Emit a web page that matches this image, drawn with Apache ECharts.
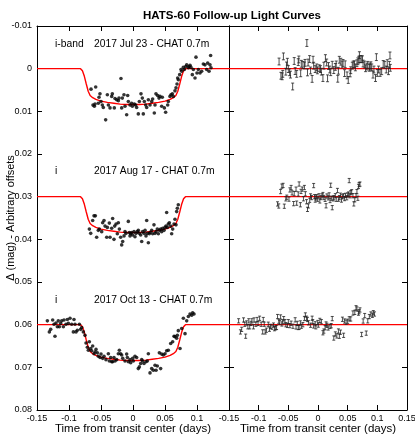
<!DOCTYPE html>
<html>
<head>
<meta charset="utf-8">
<script src="https://cdn.jsdelivr.net/npm/echarts@6/dist/echarts.min.js"></script>
<style>
  html, body { margin: 0; padding: 0; background: #fff; }
  #chart { width: 415px; height: 436px; }
</style>
</head>
<body>
<div id="chart"></div>
<script>
// offsets of the three nights (mag)
const offsets = [0, 0.03, 0.06];
const nightBands = ['i-band', 'i', 'i'];
const nightLabels = ['2017 Jul 23 - CHAT 0.7m', '2017 Aug 17 - CHAT 0.7m', '2017 Oct 13 - CHAT 0.7m'];
// typical photometric error per night (mag)
const nightErrors = [0.0008, 0.0005, 0.0005];

// transit model (depth below baseline)
const modelT = [-0.15, -0.082, -0.079, -0.076, -0.073, -0.070, -0.067, -0.063, -0.058, -0.050, -0.040, -0.030, -0.020, -0.010, 0,
  0.010, 0.020, 0.030, 0.040, 0.050, 0.058, 0.063, 0.067, 0.070, 0.073, 0.076, 0.079, 0.082, 0.15];
const modelDepth = [0, 0, 0.0005, 0.0018, 0.0036, 0.0053, 0.0063, 0.0068, 0.0072, 0.0076, 0.0079, 0.0081, 0.0083, 0.0084, 0.0084,
  0.0084, 0.0083, 0.0081, 0.0079, 0.0076, 0.0072, 0.0068, 0.0063, 0.0053, 0.0036, 0.0018, 0.0005, 0, 0];

// light curves [time, dmag incl. offset]
const lc1 = [[-0.0656,0.0048],[-0.0583,0.0043],[-0.0516,0.0059],[-0.0531,0.0067],[-0.0625,0.0085],[-0.0594,0.0083],[-0.0604,0.0088],[-0.0542,0.0081],[-0.0500,0.0077],[-0.0479,0.0085],[-0.0427,0.0120],[-0.0464,0.0091],[-0.0401,0.0061],[-0.0385,0.0085],[-0.0359,0.0092],[-0.0333,0.0065],[-0.0323,0.0059],[-0.0292,0.0092],[-0.0281,0.0070],[-0.0255,0.0073],[-0.0229,0.0075],[-0.0219,0.0069],[-0.0188,0.0023],[-0.0177,0.0092],[-0.0167,0.0069],[-0.0141,0.0061],[-0.0125,0.0088],[-0.0099,0.0108],[-0.0083,0.0063],[-0.0073,0.0077],[-0.0047,0.0085],[-0.0021,0.0081],[-0.0010,0.0088],[0.0021,0.0083],[0.0042,0.0085],[0.0057,0.0091],[0.0083,0.0106],[0.0099,0.0077],[0.0125,0.0059],[0.0146,0.0069],[0.0161,0.0106],[0.0177,0.0077],[0.0198,0.0085],[0.0214,0.0091],[0.0240,0.0073],[0.0266,0.0085],[0.0292,0.0077],[0.0307,0.0071],[0.0333,0.0104],[0.0344,0.0085],[0.0359,0.0059],[0.0385,0.0063],[0.0406,0.0069],[0.0422,0.0065],[0.0448,0.0088],[0.0458,0.0067],[0.0490,0.0092],[0.0510,0.0102],[0.0542,0.0085],[0.0552,0.0077],[0.0578,0.0065],[0.0594,0.0061],[0.0615,0.0059],[0.0630,0.0065],[0.0656,0.0052],[0.0672,0.0045],[0.0688,0.0036],[0.0698,0.0022],[0.0708,0.0026],[0.0729,0.0014],[0.0750,0.0002],[0.0760,0.0006],[0.0786,-0.0003],[0.0802,0.0002],[0.0823,-0.0005],[0.0839,-0.0009],[0.0865,-0.0002],[0.0875,-0.0005],[0.0891,-0.0008],[0.0906,-0.0003],[0.0927,0.0014],[0.0943,0.0002],[0.0969,0.0022],[0.0984,-0.0027],[0.1000,0.0010],[0.1021,0.0002],[0.1047,0.0010],[0.1073,0.0006],[0.1099,-0.0011],[0.1125,-0.0009],[0.1151,0.0002],[0.1167,-0.0013],[0.1188,0.0006],[0.1203,-0.0009],[0.1213,-0.0031],[0.1219,-0.0002]];
const lc2 = [[-0.0682,0.0376],[-0.0661,0.0386],[-0.0630,0.0356],[-0.0609,0.0345],[-0.0588,0.0345],[-0.0568,0.0395],[-0.0542,0.0379],[-0.0526,0.0376],[-0.0489,0.0382],[-0.0474,0.0361],[-0.0453,0.0356],[-0.0437,0.0369],[-0.0411,0.0395],[-0.0401,0.0372],[-0.0370,0.0362],[-0.0359,0.0395],[-0.0333,0.0374],[-0.0318,0.0351],[-0.0297,0.0400],[-0.0286,0.0369],[-0.0265,0.0364],[-0.0245,0.0387],[-0.0229,0.0361],[-0.0213,0.0376],[-0.0193,0.0395],[-0.0177,0.0413],[-0.0161,0.0405],[-0.0140,0.0392],[-0.0125,0.0382],[-0.0109,0.0386],[-0.0073,0.0358],[-0.0057,0.0384],[-0.0047,0.0392],[-0.0036,0.0387],[-0.0021,0.0384],[-0.0005,0.0390],[0.0016,0.0382],[0.0031,0.0394],[0.0047,0.0386],[0.0068,0.0382],[0.0083,0.0379],[0.0099,0.0386],[0.0120,0.0390],[0.0136,0.0405],[0.0151,0.0382],[0.0172,0.0386],[0.0188,0.0379],[0.0203,0.0392],[0.0214,0.0356],[0.0224,0.0386],[0.0240,0.0408],[0.0255,0.0387],[0.0266,0.0384],[0.0292,0.0379],[0.0307,0.0387],[0.0328,0.0366],[0.0344,0.0386],[0.0360,0.0382],[0.0380,0.0376],[0.0396,0.0387],[0.0412,0.0379],[0.0432,0.0376],[0.0448,0.0382],[0.0464,0.0374],[0.0485,0.0379],[0.0500,0.0372],[0.0516,0.0369],[0.0526,0.0337],[0.0537,0.0372],[0.0552,0.0364],[0.0568,0.0361],[0.0589,0.0369],[0.0604,0.0387],[0.0620,0.0376],[0.0641,0.0364],[0.0656,0.0353],[0.0672,0.0366],[0.0682,0.0335],[0.0693,0.0327],[0.0708,0.0319]];
const lc3 = [[-0.1338,0.0591],[-0.1307,0.0617],[-0.1286,0.0611],[-0.1255,0.0589],[-0.1234,0.0599],[-0.1219,0.0627],[-0.1203,0.0596],[-0.1182,0.0605],[-0.1167,0.0591],[-0.1151,0.0605],[-0.1130,0.0597],[-0.1114,0.0591],[-0.1088,0.0605],[-0.1078,0.0589],[-0.1047,0.0599],[-0.1026,0.0588],[-0.1010,0.0597],[-0.0984,0.0585],[-0.0958,0.0599],[-0.0932,0.0617],[-0.0922,0.0588],[-0.0906,0.0599],[-0.0890,0.0617],[-0.0870,0.0613],[-0.0838,0.0599],[-0.0818,0.0611],[-0.0802,0.0607],[-0.0776,0.0617],[-0.0750,0.0625],[-0.0734,0.0643],[-0.0713,0.0653],[-0.0698,0.0660],[-0.0682,0.0640],[-0.0661,0.0656],[-0.0646,0.0661],[-0.0630,0.0650],[-0.0609,0.0668],[-0.0594,0.0664],[-0.0578,0.0658],[-0.0557,0.0666],[-0.0542,0.0674],[-0.0515,0.0677],[-0.0500,0.0669],[-0.0474,0.0679],[-0.0453,0.0674],[-0.0422,0.0682],[-0.0385,0.0668],[-0.0370,0.0685],[-0.0349,0.0677],[-0.0333,0.0687],[-0.0318,0.0687],[-0.0297,0.0677],[-0.0281,0.0685],[-0.0255,0.0682],[-0.0229,0.0668],[-0.0213,0.0660],[-0.0193,0.0668],[-0.0177,0.0671],[-0.0161,0.0679],[-0.0125,0.0685],[-0.0099,0.0669],[-0.0088,0.0677],[-0.0073,0.0687],[-0.0047,0.0682],[-0.0036,0.0689],[-0.0005,0.0679],[0.0005,0.0685],[0.0031,0.0674],[0.0057,0.0677],[0.0083,0.0703],[0.0099,0.0699],[0.0120,0.0691],[0.0136,0.0682],[0.0151,0.0685],[0.0172,0.0691],[0.0203,0.0687],[0.0224,0.0685],[0.0240,0.0668],[0.0266,0.0713],[0.0292,0.0703],[0.0318,0.0707],[0.0344,0.0695],[0.0360,0.0707],[0.0380,0.0697],[0.0412,0.0666],[0.0432,0.0703],[0.0448,0.0669],[0.0474,0.0671],[0.0500,0.0668],[0.0526,0.0661],[0.0552,0.0660],[0.0589,0.0644],[0.0620,0.0640],[0.0641,0.0627],[0.0656,0.0628],[0.0682,0.0632],[0.0693,0.0625],[0.0708,0.0614],[0.0735,0.0656],[0.0761,0.0609],[0.0787,0.0585],[0.0813,0.0621],[0.0839,0.0591],[0.0865,0.0581],[0.0891,0.0575],[0.0917,0.0578],[0.0932,0.0572],[0.0953,0.0575]];
const lightCurves = [lc1, lc2, lc3];

const FONT = '"Liberation Sans", Arial, sans-serif';

// model depth at time t (from the read-off curve)
function depthAt(t) {
  for (let i = 1; i < modelT.length; i++) {
    if (t <= modelT[i]) {
      const f = (t - modelT[i - 1]) / (modelT[i] - modelT[i - 1]);
      return modelDepth[i - 1] + f * (modelDepth[i] - modelDepth[i - 1]);
    }
  }
  return 0;
}

function errBar(params, api) {
  const t = api.value(0), v = api.value(1), e = api.value(2);
  const a = api.coord([t, v - e]);
  const b = api.coord([t, v + e]);
  const w = 1.5;
  const st = { stroke: '#222', lineWidth: 0.8 };
  return {
    type: 'group',
    children: [
      { type: 'line', shape: { x1: a[0], y1: a[1], x2: b[0], y2: b[1] }, style: st },
      { type: 'line', shape: { x1: a[0] - w, y1: a[1], x2: a[0] + w, y2: a[1] }, style: st },
      { type: 'line', shape: { x1: b[0] - w, y1: b[1], x2: b[0] + w, y2: b[1] }, style: st }
    ]
  };
}

const lineStyle = { color: '#000', width: 1 };
const labelFmt = v => String(parseFloat(v.toFixed(3)));

function xAx(grid, pos, showLabels, hideMax, name) {
  return {
    type: 'value', gridIndex: grid, position: pos, min: -0.15, max: 0.15, interval: 0.05,
    axisLine: { show: true, onZero: false, lineStyle },
    axisTick: { show: true, inside: true, length: 5, lineStyle },
    axisLabel: { show: showLabels, showMaxLabel: !hideMax, fontSize: 9, color: '#000', margin: 4, fontFamily: FONT, formatter: labelFmt },
    splitLine: { show: false },
    name: name || '', nameLocation: 'middle', nameGap: 13, nameMoveOverlap: false,
    nameTextStyle: { fontSize: 11.5, color: '#000', fontFamily: FONT }
  };
}
function yAx(grid, pos, showLabels, name) {
  return {
    type: 'value', gridIndex: grid, position: pos, min: -0.01, max: 0.08, interval: 0.01, inverse: true,
    axisLine: { show: true, onZero: false, lineStyle },
    axisTick: { show: true, inside: true, length: 5, lineStyle },
    axisLabel: { show: showLabels, fontSize: 9, color: '#000', margin: 5, fontFamily: FONT, formatter: labelFmt },
    splitLine: { show: false },
    name: name || '', nameLocation: 'middle', nameGap: 21, nameRotate: 90, nameMoveOverlap: false,
    nameTextStyle: { fontSize: 11, color: '#000', fontFamily: FONT }
  };
}

const series = [];
lightCurves.forEach((lc, k) => {
  const off = offsets[k];
  series.push({
    type: 'line', xAxisIndex: 0, yAxisIndex: 0, showSymbol: false, silent: true,
    data: modelT.map((t, i) => [t, off + modelDepth[i]]),
    lineStyle: { color: '#ff0000', width: 1.4 }, z: 2
  });
  series.push({
    type: 'scatter', xAxisIndex: 0, yAxisIndex: 0, symbol: 'circle', symbolSize: 3.6,
    data: lc, itemStyle: { color: '#000' }, z: 3
  });
  series.push({
    type: 'line', xAxisIndex: 2, yAxisIndex: 2, showSymbol: false, silent: true,
    data: [[-0.15, off], [0.15, off]],
    lineStyle: { color: '#ff0000', width: 1.4 }, z: 2
  });
  series.push({
    type: 'custom', xAxisIndex: 2, yAxisIndex: 2, renderItem: errBar,
    encode: { x: 0, y: 1 },
    data: lc.map(p => [p[0], p[1] - depthAt(p[0]), nightErrors[k]]), z: 3
  });
});

const graphic = [];
const textY = [46, 173, 302];
textY.forEach((y, k) => {
  graphic.push({ type: 'text', left: 55, top: y - 7, style: { text: nightBands[k], font: '10.3px ' + FONT, fill: '#000' } });
  graphic.push({ type: 'text', left: 94, top: y - 7, style: { text: nightLabels[k], font: '10.3px ' + FONT, fill: '#000' } });
});

const chart = echarts.init(document.getElementById('chart'), null, { renderer: 'canvas' });
chart.setOption({
  animation: false,
  backgroundColor: '#fff',
  title: {
    text: 'HATS-60 Follow-up Light Curves', left: 227, top: 5, textAlign: 'center',
    textStyle: { fontSize: 11.5, fontWeight: 'bold', color: '#000', fontFamily: FONT }
  },
  grid: [
    { left: 37, right: 186, top: 26, bottom: 26, outerBoundsMode: 'none' },
    { left: 229, right: 8, top: 26, bottom: 26, outerBoundsMode: 'none' }
  ],
  xAxis: [
    xAx(0, 'bottom', true, true, 'Time from transit center (days)'),
    xAx(0, 'top', false, false),
    xAx(1, 'bottom', true, false, 'Time from transit center (days)'),
    xAx(1, 'top', false, false)
  ],
  yAxis: [
    yAx(0, 'left', true, 'Δ (mag) - Arbitrary offsets'),
    yAx(0, 'right', false),
    yAx(1, 'left', false),
    yAx(1, 'right', false)
  ],
  graphic,
  series
});
</script>
</body>
</html>
